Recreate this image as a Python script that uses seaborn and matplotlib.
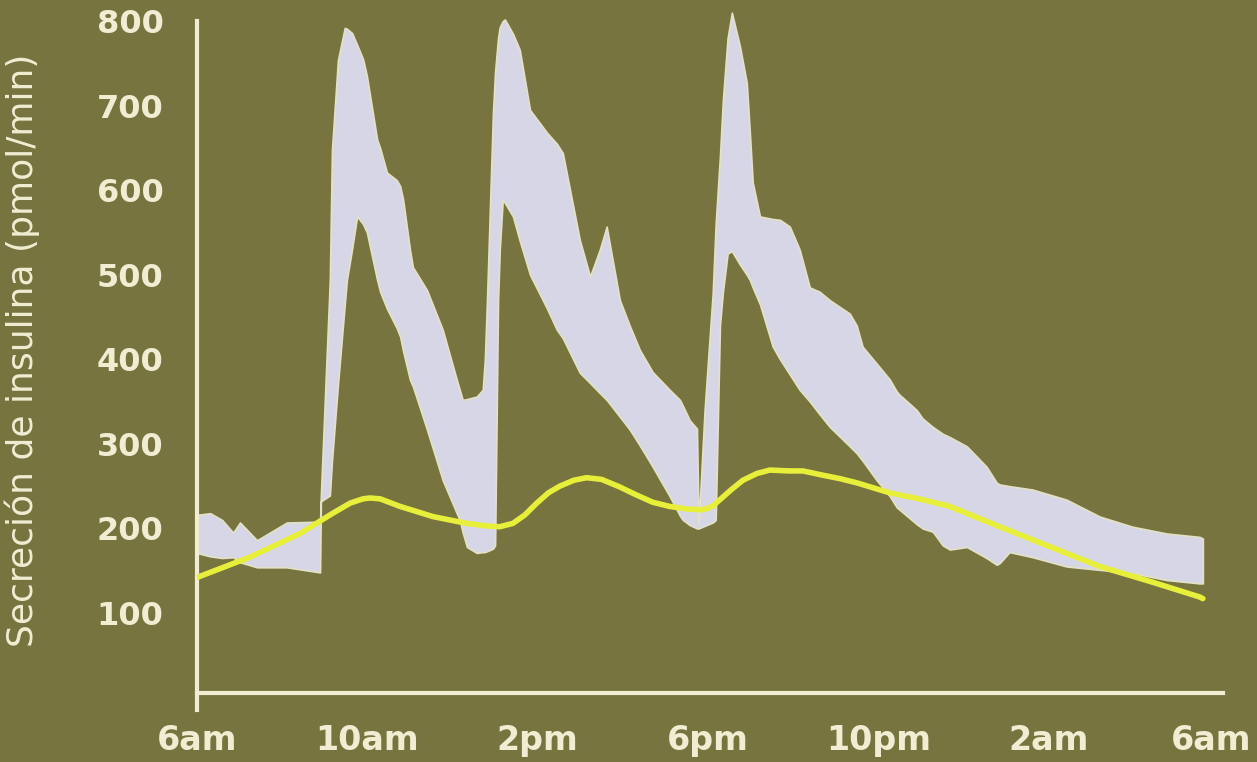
import numpy as np
import pandas as pd
import matplotlib
matplotlib.use('Agg')
import matplotlib.pyplot as plt
import matplotlib.transforms as mtransforms
import seaborn as sns

# hours after 6am
tick_hours = [0, 4, 8, 12, 16, 20, 24]
tick_labels = ['6am', '10am', '2pm', '6pm', '10pm', '2am', '6am']
y_ticks = [100, 200, 300, 400, 500, 600, 700, 800]

# envelope of insulin secretion (pmol/min)
band_hours = [0.0, 0.31, 0.59, 0.85, 1.01, 1.41, 2.11, 2.89,
              2.91, 3.12, 3.17, 3.31, 3.47, 3.52, 3.64, 3.76, 3.90, 3.99, 4.23, 4.30, 4.46,
              4.69, 4.77, 4.84, 5.00, 5.07, 5.40, 5.77, 6.10, 6.17, 6.24, 6.34, 6.57, 6.71,
              6.76, 6.81, 6.95, 7.00, 7.07, 7.11, 7.18, 7.23, 7.42, 7.58, 7.82, 8.22, 8.45,
              8.59, 8.99, 9.23, 9.46, 9.62, 9.93, 10.16, 10.40, 10.70, 10.87, 11.10, 11.34,
              11.41, 11.57, 11.74,
              11.78, 11.92, 12.11, 12.18, 12.28, 12.35, 12.46, 12.56, 12.75, 12.91, 12.98,
              13.05, 13.22, 13.52, 13.69, 13.92, 14.15, 14.39, 14.62, 14.86, 15.33, 15.49,
              15.63, 15.96, 16.27, 16.43, 16.50, 16.90, 17.04, 17.28, 17.51, 17.68, 18.08,
              18.54, 18.78, 18.85, 19.08, 19.62, 20.42, 21.20, 21.97, 22.77, 23.54, 23.62]
band_high = [216, 218, 210, 195, 207, 186, 207, 208,
             240, 494, 648, 754, 792, 791, 786, 772, 755, 735, 660, 650, 621,
             612, 605, 589, 530, 509, 482, 435, 376, 364, 352, 353, 356, 364,
             400, 470, 691, 740, 780, 793, 800, 802, 785, 766, 695, 668, 655,
             644, 541, 498, 530, 557, 470, 440, 411, 385, 376, 364, 352,
             345, 328, 318,
             205, 340, 478, 560, 640, 707, 780, 810, 770, 727, 670,
             609, 569, 566, 565, 557, 530, 485, 480, 470, 454, 440,
             415, 395, 376, 362, 358, 340, 330, 320, 312, 308, 297,
             273, 254, 252, 250, 246, 234, 214, 202, 194, 190, 188]
band_low = [171, 167, 165, 166, 160, 154, 154, 148,
            232, 239, 280, 370, 465, 494, 530, 569, 560, 550, 494, 480, 460,
            437, 427, 410, 376, 368, 317, 257, 218, 210, 195, 178, 171, 172,
            172, 173, 176, 180, 470, 530, 589, 585, 569, 540, 500, 460, 435,
            425, 384, 372, 360, 352, 332, 317, 298, 273, 258, 238, 215,
            210, 204, 200,
            200, 203, 207, 210, 440, 480, 525, 528, 512, 500, 494,
            485, 465, 415, 400, 382, 364, 350, 335, 320, 297, 289,
            280, 257, 238, 225, 222, 205, 200, 196, 180, 175, 178,
            165, 157, 159, 172, 166, 155, 151, 147, 139, 135, 135]

# smooth yellow curve
line_hours = [0.0, 1.24, 2.42, 3.19, 3.60, 3.90, 4.06, 4.30, 4.77, 5.54, 6.33, 6.80, 7.11,
              7.42, 7.70, 7.98, 8.25, 8.52, 8.85, 9.15, 9.50, 9.93, 10.30, 10.70, 11.10,
              11.50, 11.88, 12.10, 12.28, 12.55, 12.82, 13.15, 13.45, 13.92, 14.23, 14.69,
              15.09, 15.49, 16.27, 17.04, 17.68, 18.85, 20.00, 21.20, 22.40, 23.54, 23.62]
line_vals = [142, 166, 194, 218, 230, 235, 236, 235, 226, 214, 206, 203, 202,
             206, 216, 230, 242, 250, 257, 260, 258, 249, 240, 231, 226,
             223, 222, 226, 234, 246, 257, 265, 269, 268, 268, 263,
             259, 254, 242, 234, 226, 202, 179, 155, 137, 119, 117]

BG = '#77743f'
FG = '#f1edd3'
BAND = '#d6d6e6'
LINE = '#e8ef3a'

sns.set_style('white')
plt.rcParams['font.family'] = ['DejaVu Sans']

fig = plt.figure(figsize=(12.57, 7.62), dpi=100, facecolor=BG)
ax = fig.add_axes([0.1567, 0.0682, 0.8165, 0.9318])
ax.set_facecolor(BG)

ax.fill_between(band_hours, band_low, band_high, color=BAND,
                edgecolor='#e4e2c6', linewidth=1.2, zorder=2)

df = pd.DataFrame({'hora': line_hours, 'insulina': line_vals})
sns.lineplot(data=df, x='hora', y='insulina', ax=ax, color=LINE,
             linewidth=4, zorder=3)

ax.set_xlim(0, 24.1)
ax.set_ylim(-14.8, 825)

ax.set_xticks(tick_hours)
ax.set_xticklabels(tick_labels)
ax.set_yticks(y_ticks)
ax.set_yticklabels([str(v) for v in y_ticks])

for side in ['top', 'right']:
    ax.spines[side].set_visible(False)
ax.spines['left'].set_bounds(-14.8, 800)
ax.spines['bottom'].set_position(('data', 5))
for side in ['left', 'bottom']:
    ax.spines[side].set_color(FG)
    ax.spines[side].set_linewidth(3)

ax.tick_params(axis='y', length=18, width=3, color=FG, labelcolor=FG,
               labelsize=23, pad=6)
ax.tick_params(axis='x', length=11, width=3, color=FG, labelcolor=FG,
               labelsize=24, pad=11)
for lab in ax.get_xticklabels() + ax.get_yticklabels():
    lab.set_fontweight('bold')

# last label sits a little left of its tick, as in the original
last = ax.get_xticklabels()[-1]
last.set_transform(last.get_transform() +
                   mtransforms.ScaledTranslation(-8 / 100, 0, fig.dpi_scale_trans))

ax.set_xlabel('')
ax.set_ylabel('Secreción de insulina (pmol/min)', color=FG, fontsize=26)
ax.yaxis.set_label_coords(-0.153, 0.507)

fig.savefig('out.png', dpi=100, facecolor=BG)
